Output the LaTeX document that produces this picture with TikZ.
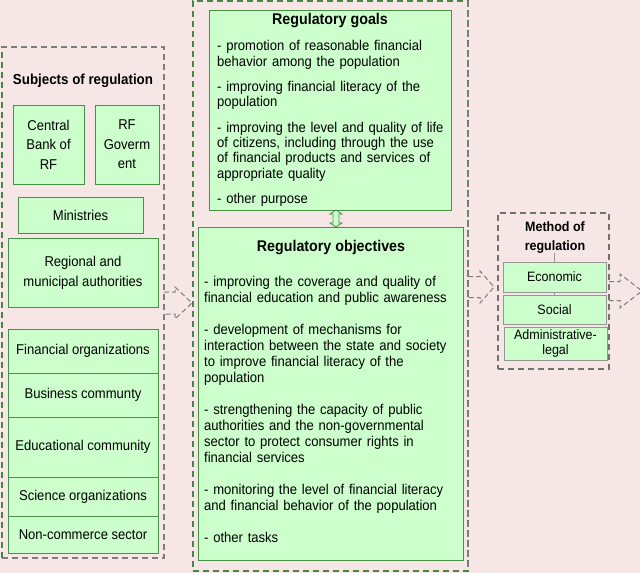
\documentclass[tikz,border=0pt]{standalone}
\usepackage{fontspec}
\setmainfont{Liberation Sans}[FakeStretch=0.92]
\usetikzlibrary{calc}
\definecolor{bgpink}{RGB}{246,230,230}
\definecolor{boxgreen}{RGB}{204,255,204}
\definecolor{linegreen}{RGB}{70,145,70}
\definecolor{dashgreen}{RGB}{70,135,70}
\definecolor{dashgrey}{RGB}{125,125,125}
\definecolor{boxgrey}{RGB}{150,150,150}
\begin{document}
\begin{tikzpicture}[x=1pt,y=-1pt,
  gbox/.style={draw=linegreen, fill=boxgreen, line width=0.9pt, inner sep=0pt, outer sep=0pt, align=center, font=\fontsize{14.2}{19.5}\selectfont},
  rbox/.style={draw=boxgrey, fill=boxgreen, line width=0.9pt, inner sep=0pt, outer sep=0pt, align=center, font=\fontsize{13.6}{15}\selectfont},
  dgrp/.style={draw=dashgrey, line width=1.1pt, dash pattern=on 6pt off 4pt, inner sep=0pt, outer sep=0pt},
  dedge/.style={draw=dashgreen, line width=1.1pt, dash pattern=on 6pt off 4pt},
  barrow/.style={draw=dashgrey, line width=1pt, dash pattern=on 5pt off 3pt},
  ttl/.style={inner sep=0pt, font=\bfseries\fontsize{15.5}{17}\selectfont, align=center},
  body/.style={inner sep=0pt, anchor=north west, align=left, text width=270pt}
]
\useasboundingbox (0,0) rectangle (640,573);
\fill[bgpink] (0,0) rectangle (640,573);

% group frames
\node[dgrp, minimum width=162pt, minimum height=511pt] (subjbox) at (83,302.5) {};
\draw[dedge] (subjbox.south west) -- (subjbox.north west);
\node[dgrp, draw=dashgreen, minimum width=275pt, minimum height=570pt] (midbox) at (330.5,286) {};
\draw[dgrp] (midbox.north east) -- (midbox.south east);
\node[dgrp, draw=dashgrey!90!black, minimum width=111pt, minimum height=156pt] (methbox) at (553.5,291) {};

% subjects of regulation
\node[ttl, font=\bfseries\fontsize{14.5}{16}\selectfont] (subjttl) at (83,81) {Subjects of regulation};
\node[gbox, minimum width=71pt, minimum height=79pt] (cbank) at (48.5,144.5) {Central\\Bank of\\RF};
\node[gbox, minimum width=64pt, minimum height=79pt] (rfgov) at (127,144.5) {RF\\Goverm\\ent};
\node[gbox, minimum width=125pt, minimum height=36pt] (minis) at (80.5,215) {Ministries};
\node[gbox, minimum width=150pt, minimum height=69pt, font=\fontsize{14.2}{20}\selectfont] (region) at (83,272.5) {Regional and\\municipal authorities};
\node[gbox, minimum width=150pt, minimum height=44pt] (finorg) at (83,351) {Financial organizations};
\node[gbox, minimum width=150pt, minimum height=44pt] (busin) at (83,395) {Business communty};
\node[gbox, minimum width=150pt, minimum height=60pt] (educ) at (83,447) {Educational community};
\node[gbox, minimum width=150pt, minimum height=39pt] (sci) at (83,496.5) {Science organizations};
\node[gbox, minimum width=150pt, minimum height=37pt] (noncom) at (83,534.5) {Non-commerce sector};

% goals
\node[gbox, minimum width=242pt, minimum height=200pt] (goals) at (330,110) {};
\node[ttl] (goalsttl) at (330,21) {Regulatory goals};
\node[body, font=\fontsize{14.2}{15.3}\selectfont] (goalstxt) at (217,40.5) {%
- promotion of reasonable financial\\
behavior among the population\\[10pt]
- improving financial literacy of the\\
population\\[10pt]
- improving the level and quality of life\\
of citizens, including through the use\\
of financial products and services of\\
appropriate quality\\[10pt]
- other purpose};

% objectives
\node[gbox, minimum width=265pt, minimum height=333pt] (objs) at (330.5,393.5) {};
\node[ttl] (objsttl) at (331,248) {Regulatory objectives};
\node[body, font=\fontsize{14.2}{16}\selectfont] (objstxt) at (204,276) {%
- improving the coverage and quality of\\
financial education and public awareness\\[16pt]
- development of mechanisms for\\
interaction between the state and society\\
to improve financial literacy of the\\
population\\[16pt]
- strengthening the capacity of public\\
authorities and the non-governmental\\
sector to protect consumer rights in\\
financial services\\[16pt]
- monitoring the level of financial literacy\\
and financial behavior of the population\\[16pt]
- other tasks};

% double arrow goals <-> objectives
\coordinate (da1) at ($(goals.south)+(6,0)$);
\coordinate (da2) at ($(objs.north)+(5.5,0)$);
\draw[draw=linegreen, fill=boxgreen, line width=0.8pt] (da1) -- ++(6,4) -- ++(-3,0) -- ++(0,9) -- ++(3,0) -- (da2) -- ++(-6,-4) -- ++(3,0) -- ++(0,-9) -- ++(-3,0) -- cycle;

% method of regulation
\node[ttl, font=\bfseries\fontsize{13.6}{19}\selectfont] (methttl) at (555,238) {Method of\\regulation};
\node[rbox, minimum width=103pt, minimum height=30pt] (econ) at (554.5,277) {Economic};
\node[rbox, minimum width=103pt, minimum height=29pt] (social) at (554.5,309.5) {Social};
\node[rbox, minimum width=103pt, minimum height=33pt] (admin) at (555.5,343.5) {Administrative-\\legal};
\draw[boxgrey, line width=0.8pt] (econ.north) -- ++(0,-9);
\draw[boxgrey, line width=0.8pt] (econ.south) -- (social.north);

% block arrows
\coordinate (la) at (subjbox.east |- 0,303);
\coordinate (lt) at ($(midbox.west |- la)+(-1,0)$);
\draw[barrow] (la) ++(0,-11) -- ++(11,0) -- ++(0,-5) -- (lt) -- ++(-17,16) -- ++(0,-5) -- ++(-11,0);
\coordinate (ma) at (midbox.east |- 0,287);
\coordinate (mt) at ($(methbox.west |- ma)+(-4,0)$);
\draw[barrow] (ma) ++(0,-10.5) -- ++(12,0) -- ++(0,-5.5) -- (mt) -- ++(-14,16) -- ++(0,-5.5) -- ++(-12,0);
\coordinate (ra) at (methbox.east |- 0,291);
\coordinate (rt) at ($(ra)+(33,0)$);
\draw[barrow] (ra) ++(0,-9.5) -- ++(11,0) -- ++(0,-7.5) -- (rt) -- ++(-22,17) -- ++(0,-7.5) -- ++(-11,0);
\end{tikzpicture}
\end{document}
